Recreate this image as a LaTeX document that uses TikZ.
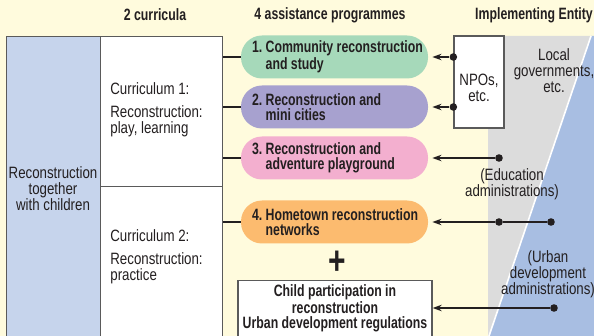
\documentclass[tikz,border=0pt]{standalone}
\usepackage{fontspec}
\setmainfont{Liberation Sans}[FakeStretch=0.81]
\newfontfamily\condbold{Liberation Sans Bold}[FakeStretch=0.75]
\usetikzlibrary{arrows.meta}

\definecolor{bgcream}{HTML}{FFFBDD}
\definecolor{colblue}{HTML}{C6D4EC}
\definecolor{entgrey}{HTML}{DCDCDC}
\definecolor{entblue}{HTML}{A8BEE2}
\definecolor{pillgreen}{HTML}{A6D9BA}
\definecolor{pillpurple}{HTML}{A7A1CF}
\definecolor{pillpink}{HTML}{F3AFCF}
\definecolor{pillorange}{HTML}{FCBB6F}
\definecolor{framegrey}{HTML}{5A5A5A}
\definecolor{inkdark}{HTML}{231F20}

\tikzset{
  txt/.style={font=\fontsize{8.2}{8}\selectfont, align=center, inner sep=0pt, text=inkdark},
  hdr/.style={font=\condbold\fontsize{8.2}{7.5}\selectfont, inner sep=0pt, text=inkdark},
  pill/.style={fill=#1, rounded corners=10.5pt, minimum width=93.5pt, minimum height=21.5pt, inner sep=0pt},
  pilltext/.style={hdr, align=left, anchor=west, xshift=5.5pt},
  frame/.style={draw=framegrey, line width=0.65pt},
  link/.style={draw=inkdark, line width=0.6pt},
  dot/.style={circle, fill=inkdark, inner sep=0pt, minimum size=3.8pt},
}

\begin{document}
\begin{tikzpicture}[x=0.5pt, y=-0.5pt, >={Stealth[length=4.5pt,width=3.2pt]}]
  \useasboundingbox (0,0) rectangle (594,336);
  % background and entity bands
  \fill[bgcream] (0,0) rectangle (594,336);
  \fill[entgrey] (488,36) -- (591,36) -- (489,336) -- (488,336) -- cycle;
  \fill[entblue] (591,36) -- (600,36) -- (600,336) -- (489,336) -- cycle;
  \draw[white, line width=0.8pt] (591,36) -- (489,336);
  % column headers
  \node[hdr] (h1) at (155,15) {2 curricula};
  \node[hdr] (h2) at (330,15) {4 assistance programmes};
  \node[hdr] (h3) at (534,15) {Implementing Entity};
  % left frame: theme and curricula
  \node[frame, fill=colblue, minimum width=47pt, minimum height=154.5pt, anchor=north west] (kids) at (6,36) {};
  \node[txt] (kidst) at (53,189) {Reconstruction\\together\\with children};
  \node[frame, fill=white, minimum width=61pt, minimum height=75pt, anchor=north west] (cur1) at (100,36) {};
  \node[frame, fill=white, minimum width=61pt, minimum height=79.5pt, anchor=north west] (cur2) at (100,186) {};
  \node[txt, align=left, anchor=west] (cur1t) at (110,109.5) {Curriculum 1:\\[3.5pt]Reconstruction:\\play, learning};
  \node[txt, align=left, anchor=west] (cur2t) at (110,257) {Curriculum 2:\\[3.5pt]Reconstruction:\\practice};
  % programmes
  \node[pill=pillgreen] (p1) at (334.5,57) {};
  \node[pilltext] (p1t) at (p1.west) {1.~Community reconstruction\\\hphantom{1.~}and study};
  \node[pill=pillpurple] (p2) at (334.5,107) {};
  \node[pilltext] (p2t) at (p2.west) {2.~Reconstruction and\\\hphantom{2.~}mini cities};
  \node[pill=pillpink] (p3) at (334.5,158) {};
  \node[pilltext] (p3t) at (p3.west) {3.~Reconstruction and\\\hphantom{3.~}adventure playground};
  \node[pill=pillorange] (p4) at (334.5,222) {};
  \node[pilltext] (p4t) at (p4.west) {4.~Hometown reconstruction\\\hphantom{4.~}networks};
  \node[hdr, font=\condbold\fontsize{20}{20}\selectfont] (plus) at (337,263) {+};
  \node[frame, fill=white, minimum width=97pt, minimum height=32.5pt, anchor=north] (child) at (335,280) {};
  \node[hdr, align=center] (childt) at (335,308) {Child participation in\\reconstruction\\Urban development regulations};
  % implementing entities
  \node[frame, fill=white, minimum width=25pt, minimum height=46pt] (npo) at (479,82) {};
  \node[txt] (npot) at (479,88) {NPOs,\\etc.};
  \node[txt] (loc) at (554,71) {Local\\governments,\\etc.};
  \node[txt] (edu) at (512,184) {(Education\\administrations)};
  \node[txt] (urb) at (548,274) {(Urban\\development\\administrations)};
  % curricula to programmes
  \draw[link] (cur1.east |- p1.west) -- (p1.west);
  \draw[link] (cur1.east |- p2.west) -- (p2.west);
  \draw[link] (cur1.east |- p3.west) -- (p3.west);
  \draw[link] (cur2.east |- p4.west) -- (p4.west);
  % entities to programmes
  \node[dot] (n1) at (npo.west |- p1) {};
  \node[dot] (n2) at (npo.west |- p2) {};
  \node[dot] (e3) at (499,158) {};
  \node[dot] (e4) at (499,222) {};
  \node[dot] (u4) at (551,222) {};
  \node[dot] (u5) at (554,308) {};
  \draw[link, ->, shorten >=2pt] (n1) -- (p1.east);
  \draw[link, ->, shorten >=2pt] (n2) -- (p2.east);
  \draw[link, ->, shorten >=2pt] (e3) -- (p3.east);
  \draw[link] (u4) -- (e4);
  \draw[link, ->, shorten >=2pt] (e4) -- (p4.east);
  \draw[link, ->] (u5) -- (u5 -| child.east);
\end{tikzpicture}
\end{document}
